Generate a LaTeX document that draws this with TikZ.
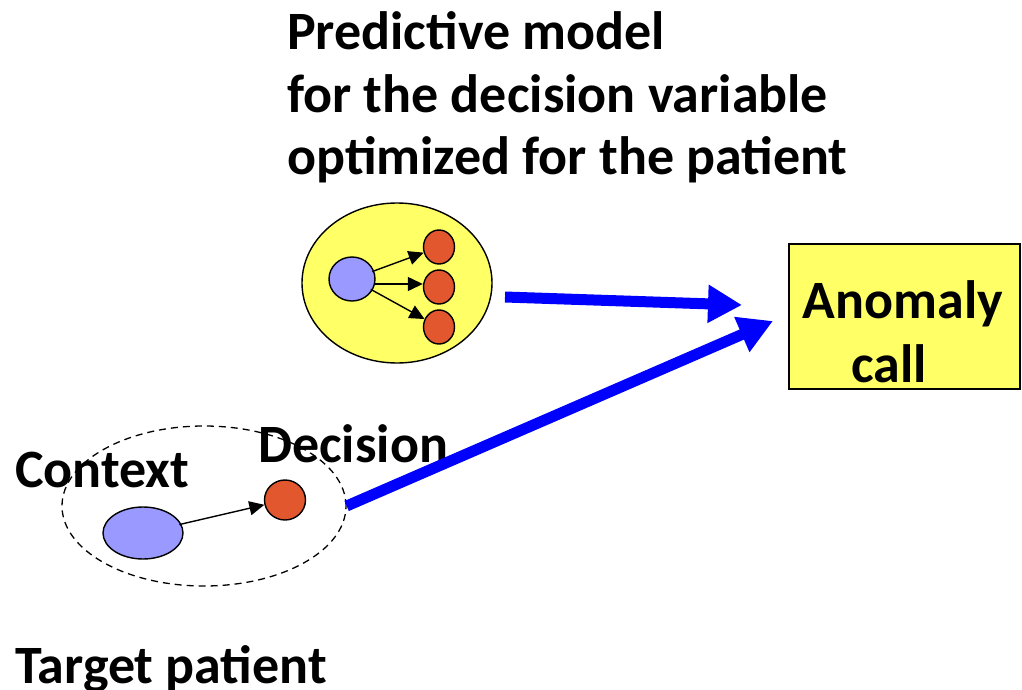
\documentclass[tikz,border=0pt]{standalone}
\usepackage{fontspec}
\setmainfont{Carlito}
\usetikzlibrary{arrows.meta,shapes.geometric}
\definecolor{padyellow}{HTML}{FFFF66}
\definecolor{ctxblue}{HTML}{9999FF}
\definecolor{decred}{HTML}{E3572F}
\definecolor{flowblue}{HTML}{0000FF}
\tikzset{
  label text/.style={font=\fontsize{54}{62}\selectfont\bfseries, inner sep=0pt},
  ctxnode/.style={ellipse, draw=black, line width=1.4pt, fill=ctxblue, inner sep=0pt},
  decnode/.style={ellipse, draw=black, line width=1.4pt, fill=decred, inner sep=0pt},
  thinarrow/.style={-{Triangle[length=15pt,width=14pt]}, line width=1.4pt, shorten <=-2pt},
  flowarrow/.style={draw=flowblue, line width=11pt, -{Triangle[length=34pt,width=36pt]}, flowblue},
}
\begin{document}
\begin{tikzpicture}[x=1pt,y=-1pt]
  \useasboundingbox (0,0) rectangle (1022,690);

  % model heading (base anchor sits on the last line)
  \node[label text, anchor=base west, align=left] (title) at (287,174)
    {Predictive model\\for the decision variable\\optimized for the patient};

  % model ensemble: context node feeding three decision nodes
  \node[ellipse, draw=black, line width=1.4pt, fill=padyellow,
        minimum width=190pt, minimum height=160pt, inner sep=0pt] (model) at (397,283) {};
  \node[ctxnode, minimum width=46pt, minimum height=44pt] (mctx) at (352,279) {};
  \node[decnode, minimum width=31pt, minimum height=34pt] (md1) at (439,247) {};
  \node[decnode, minimum width=31pt, minimum height=34pt] (md2) at (439,287) {};
  \node[decnode, minimum width=31pt, minimum height=34pt] (md3) at (439,327) {};
  \draw[thinarrow] (mctx) -- (md1);
  \draw[thinarrow] (mctx.east |- 0,284) -- (md2.west |- 0,284);
  \draw[thinarrow] (mctx) -- (md3);

  % target patient
  \node[ellipse, draw=black, dashed, dash pattern=on 7pt off 5pt, line width=1.3pt,
        minimum width=284pt, minimum height=160pt, inner sep=0pt] (patient) at (204,506) {};
  \node[ctxnode, minimum width=80pt, minimum height=52pt] (pctx) at (143,533) {};
  \node[decnode, minimum width=41pt, minimum height=40pt] (pdec) at (285,500) {};
  \draw[thinarrow] (pctx) -- (pdec);

  \node[label text, anchor=base west] (ctxlabel) at (15,487) {Context};
  \node[label text, anchor=base west] (declabel) at (258,462) {Decision};
  \node[label text, anchor=base west] (tplabel) at (15,683) {Target patient};

  % anomaly call box and its text
  \node[draw=black, line width=1.5pt, fill=padyellow, minimum width=231pt, minimum height=145pt,
        inner sep=0pt] (anomaly) at (904.5,316.5) {};
  \node[label text, align=center, anchor=base] (anomalytext) at (903,382)
    {Anomaly\\[2pt]\hspace*{-28pt}call};

  \coordinate (tip1) at (742,305);
  \coordinate (tip2) at (773,321);
  \coordinate (start1) at (505,297);
  \draw[flowarrow] (start1) -- (tip1);
  \draw[flowarrow] (patient.east) -- (tip2);
\end{tikzpicture}
\end{document}
